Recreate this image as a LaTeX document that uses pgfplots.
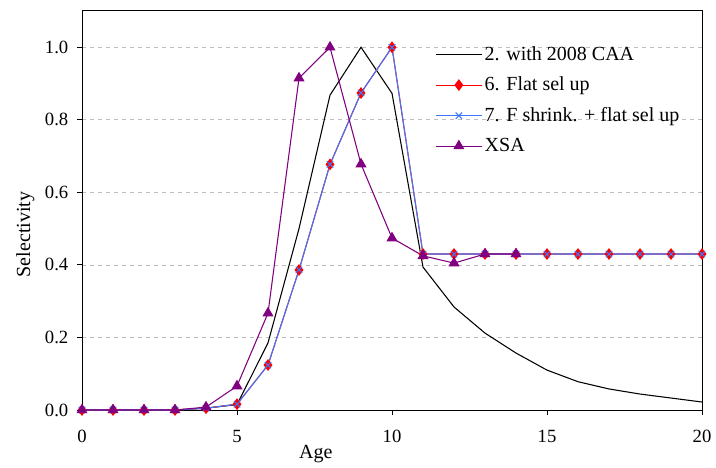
\documentclass[border=0pt]{standalone}
\usepackage{fontspec}
\setmainfont{Liberation Serif}
\usepackage{pgfplots}
\pgfplotsset{compat=1.18}
\definecolor{selred}{RGB}{255,0,0}
\definecolor{selblue}{RGB}{60,120,255}
\definecolor{selpurple}{RGB}{128,0,128}
\definecolor{gridgray}{RGB}{190,190,190}
\begin{document}
\begin{tikzpicture}
\useasboundingbox (0pt,0pt) rectangle (537pt,350.25pt);
\begin{axis}[
  at={(61.5pt,42.75pt)}, anchor=south west,
  scale only axis, width=465pt, height=299.25pt,
  xmin=0, xmax=20, ymin=0, ymax=1.1,
  xtick={0,5,10,15,20}, ytick={0,0.2,0.4,0.6,0.8,1.0},
  xtick pos=left, ytick pos=left, tick align=outside,
  major tick length=3.75pt,
  ymajorgrids, major grid style={dashed, gridgray, line width=0.6pt},
  axis line style={line width=0.75pt},
  tick style={line width=0.75pt, black},
  /pgf/number format/assume math mode=true,
  yticklabel style={/pgf/number format/fixed, /pgf/number format/fixed zerofill,
    /pgf/number format/precision=1, xshift=-3pt},
  tick label style={font=\fontsize{14}{16}\selectfont},
  xticklabel style={yshift=-8pt},
  xlabel={Age}, ylabel={Selectivity},
  label style={font=\fontsize{15}{17}\selectfont},
  xlabel style={at={(rel axis cs:0.377,0)}, anchor=north, yshift=-23pt},
  ylabel style={at={(ticklabel cs:0.44)}, anchor=south, yshift=1pt},
  legend style={draw=none, fill=none, at={(axis cs:11.4,1.01)}, anchor=north west,
    font=\fontsize{15}{17}\selectfont, row sep=7pt, inner sep=0pt,
    nodes={inner sep=2pt}},
  legend cell align=left,
  legend image code/.code={\draw[mark repeat=2,mark phase=2] plot coordinates {(0pt,0pt) (17pt,0pt) (34pt,0pt)};},
]
\addplot[black, line width=0.8pt, mark=none] coordinates {
  (0,0)(1,0)(2,0)(3,0)(4,0.005)(5,0.015)(6,0.185)(7,0.50)(8,0.868)(9,1.0)(10,0.873)
  (11,0.394)(12,0.284)(13,0.212)(14,0.157)(15,0.11)(16,0.078)(17,0.058)(18,0.044)(19,0.033)(20,0.022)};
\addlegendentry{2. with 2008 CAA}
\addplot[selred, line width=0.8pt, mark=diamond*, mark size=3.8pt, mark options={fill=selred}] coordinates {
  (0,0)(1,0)(2,0)(3,0)(4,0.005)(5,0.016)(6,0.124)(7,0.386)(8,0.677)(9,0.874)(10,1.0)
  (11,0.43)(12,0.43)(13,0.43)(14,0.43)(15,0.43)(16,0.43)(17,0.43)(18,0.43)(19,0.43)(20,0.43)};
\addlegendentry{6. Flat sel up}
\addplot[selblue, line width=0.8pt, mark=x, mark size=3.4pt] coordinates {
  (0,0)(1,0)(2,0)(3,0)(4,0.005)(5,0.016)(6,0.124)(7,0.386)(8,0.677)(9,0.874)(10,1.0)
  (11,0.43)(12,0.43)(13,0.43)(14,0.43)(15,0.43)(16,0.43)(17,0.43)(18,0.43)(19,0.43)(20,0.43)};
\addlegendentry{7. F shrink. + flat sel up}
\addplot[selpurple, line width=0.8pt, mark=triangle*, mark size=4pt, mark options={fill=selpurple}] coordinates {
  (0,0)(1,0)(2,0)(3,0)(4,0.008)(5,0.066)(6,0.267)(7,0.915)(8,1.0)(9,0.678)(10,0.474)
  (11,0.425)(12,0.405)(13,0.43)(14,0.43)};
\addlegendentry{XSA}
\end{axis}
\end{tikzpicture}
\end{document}
